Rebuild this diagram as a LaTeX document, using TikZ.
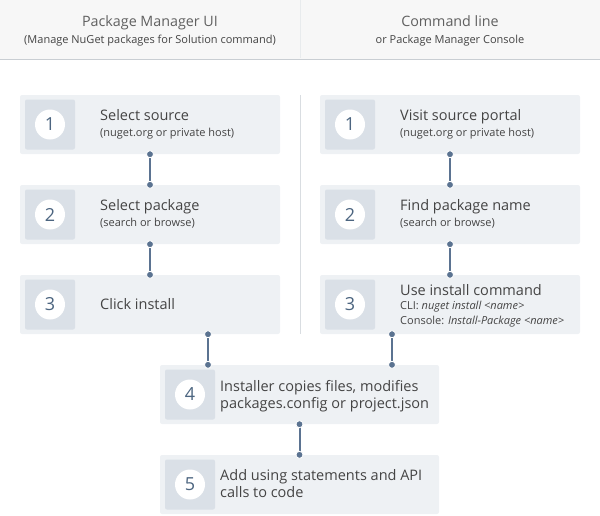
\documentclass[tikz,border=0pt]{standalone}
\usepackage{fontspec}
\setmainfont{Open Sans}
\usetikzlibrary{calc}
\definecolor{boxfill}{HTML}{EEF1F4}
\definecolor{numfill}{HTML}{DAE0E7}
\definecolor{numtext}{HTML}{4C6580}
\definecolor{conncol}{HTML}{5B7391}
\definecolor{txt}{HTML}{444444}
\definecolor{hdrfill}{HTML}{F7F7F7}
\definecolor{hdrline}{HTML}{C9CED3}
\definecolor{divline}{HTML}{D9DDE1}
\begin{document}
\begin{tikzpicture}[x=1pt,y=-1pt,
  stepbox/.style={rectangle,fill=boxfill,rounded corners=2pt,minimum width=260pt,minimum height=59pt,inner sep=0pt},
  widebox/.style={stepbox,minimum width=279pt},
  numbox/.style={rectangle,fill=numfill,rounded corners=2pt,minimum width=50pt,minimum height=50pt,inner sep=0pt},
  numcirc/.style={circle,fill=white,minimum size=30pt,inner sep=0pt,text=numtext,font=\fontsize{18}{20}\selectfont},
  maintxt/.style={anchor=base west,inner sep=0pt,text=txt,font=\fontsize{14.5}{17}\selectfont},
  subtxt/.style={anchor=base west,inner sep=0pt,text=txt,font=\fontsize{11}{13}\selectfont},
  hdrtitle/.style={anchor=base,inner sep=0pt,text=txt!85,font=\fontsize{14.3}{17}\selectfont},
  hdrsub/.style={anchor=base,inner sep=0pt,text=txt,font=\fontsize{11}{13}\selectfont},
  conn/.style={draw=conncol,line width=2pt},
  dot/.style={circle,fill=conncol,draw=white,line width=0.8pt,inner sep=0pt,minimum size=7pt}
]
\useasboundingbox (0,0) rectangle (600,515);
% header
\fill[hdrfill] (0,0) rectangle (600,59);
\draw[hdrline,line width=1pt] (0,59) -- (600,59);
\draw[divline!60,line width=0.8pt] (300,0) -- (300,58);
\node[hdrtitle] (h1) at (150,26) {Package Manager UI};
\node[hdrsub] (h1s) at (150,43) {(Manage NuGet packages for Solution command)};
\node[hdrtitle] (h2) at (450,26) {Command line};
\node[hdrsub] (h2s) at (450,43) {or Package Manager Console};
% body divider
\draw[divline,line width=1pt] (300,95) -- (300,334);
% left column
\node[stepbox] (L1) at (150,124.5) {};
\node[numbox] (L1n) at (50,124.5) {};
\node[numcirc] (L1c) at (50,124.5) {1};
\node[maintxt] (L1t) at (100,120) {Select source};
\node[subtxt] (L1s) at (100,136) {(nuget.org or private host)};

\node[stepbox] (L2) at (150,214.5) {};
\node[numbox] (L2n) at (50,214.5) {};
\node[numcirc] (L2c) at (50,214.5) {2};
\node[maintxt] (L2t) at (100,210) {Select package};
\node[subtxt] (L2s) at (100,226) {(search or browse)};

\node[stepbox] (L3) at (150,304.5) {};
\node[numbox] (L3n) at (50,304.5) {};
\node[numcirc] (L3c) at (50,304.5) {3};
\node[maintxt] (L3t) at (100,309) {Click install};

% right column
\node[stepbox] (R1) at (450,124.5) {};
\node[numbox] (R1n) at (350,124.5) {};
\node[numcirc] (R1c) at (350,124.5) {1};
\node[maintxt] (R1t) at (400,120) {Visit source portal};
\node[subtxt] (R1s) at (400,136) {(nuget.org or private host)};

\node[stepbox] (R2) at (450,214.5) {};
\node[numbox] (R2n) at (350,214.5) {};
\node[numcirc] (R2c) at (350,214.5) {2};
\node[maintxt] (R2t) at (400,210) {Find package name};
\node[subtxt] (R2s) at (400,226) {(search or browse)};

\node[stepbox] (R3) at (450,304.5) {};
\node[numbox] (R3n) at (350,304.5) {};
\node[numcirc] (R3c) at (350,304.5) {3};
\node[maintxt] (R3t) at (400,295) {Use install command};
\node[subtxt] (R3s) at (400,309.5) {CLI: \textit{nuget install <name>}};
\node[subtxt] (R3u) at (400,324.5) {Console: \textit{Install-Package <name>}};

% bottom
\node[widebox] (B4) at (299.5,394.5) {};
\node[numbox] (B4n) at (190,394.5) {};
\node[numcirc] (B4c) at (190,394.5) {4};
\node[maintxt] (B4t) at (220,391) {Installer copies files, modifies};
\node[maintxt] (B4u) at (220,408) {packages.config or project.json};

\node[widebox] (B5) at (299.5,484.5) {};
\node[numbox] (B5n) at (190,484.5) {};
\node[numcirc] (B5c) at (190,484.5) {5};
\node[maintxt] (B5t) at (220,480) {Add using statements and API};
\node[maintxt] (B5u) at (220,497) {calls to code};

% connectors
\coordinate (cl) at (208,0);
\coordinate (cr) at (392,0);
\draw[conn] (L1.south) -- (L2.north) node[dot,pos=0]{} node[dot,pos=1]{};
\draw[conn] (L2.south) -- (L3.north) node[dot,pos=0]{} node[dot,pos=1]{};
\draw[conn] (R1.south) -- (R2.north) node[dot,pos=0]{} node[dot,pos=1]{};
\draw[conn] (R2.south) -- (R3.north) node[dot,pos=0]{} node[dot,pos=1]{};
\draw[conn] (L3.south -| cl) -- (B4.north -| cl) node[dot,pos=0]{} node[dot,pos=1]{};
\draw[conn] (R3.south -| cr) -- (B4.north -| cr) node[dot,pos=0]{} node[dot,pos=1]{};
\draw[conn] (B4.south) -- (B5.north) node[dot,pos=0]{} node[dot,pos=1]{};
\end{tikzpicture}
\end{document}
